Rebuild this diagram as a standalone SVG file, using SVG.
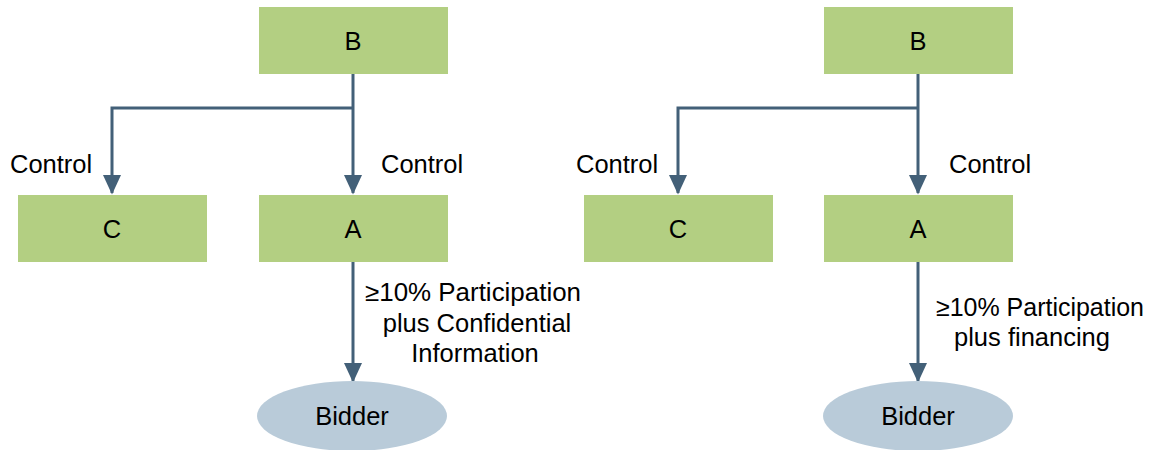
<svg xmlns="http://www.w3.org/2000/svg" width="1154" height="450" viewBox="0 0 1154 450">
<style>
.box{fill:#b3cf82}
.ell{fill:#b9cbd9}
.t{font-family:"Liberation Sans",Arial,sans-serif;font-size:25.5px;fill:#000}
.c{text-anchor:middle}
.ln{fill:none;stroke:#436078;stroke-width:3}
</style>
<defs>
<marker id="ah" markerWidth="7" markerHeight="6" refX="6" refY="3" orient="auto" markerUnits="strokeWidth">
<path d="M0,0 L6.5,3 L0,6 z" fill="#436078"/>
</marker>
</defs>
<rect width="1154" height="450" fill="#fff"/>
<g id="connectors">
<path class="ln" d="M353,74 V193" marker-end="url(#ah)"/>
<path class="ln" d="M353,108 H112 V193" marker-end="url(#ah)"/>
<path class="ln" d="M353,262 V381" marker-end="url(#ah)"/>
<path class="ln" d="M918,74 V193" marker-end="url(#ah)"/>
<path class="ln" d="M918,108 H678 V193" marker-end="url(#ah)"/>
<path class="ln" d="M918,262 V381" marker-end="url(#ah)"/>
</g>
<g id="labels">
<text class="t" x="10" y="173">Control</text>
<text class="t" x="381" y="173">Control</text>
<text class="t" x="576" y="173">Control</text>
<text class="t" x="949" y="173">Control</text>
<text class="t c" x="473" y="301" textLength="216" lengthAdjust="spacingAndGlyphs">≥10% Participation</text>
<text class="t c" x="477" y="332">plus Confidential</text>
<text class="t c" x="475" y="362">Information</text>
<text class="t c" x="1040" y="316" textLength="208" lengthAdjust="spacingAndGlyphs">≥10% Participation</text>
<text class="t c" x="1032" y="346">plus financing</text>
</g>
<g id="nodeB1"><rect class="box" x="259" y="7" width="189" height="67"/><text class="t c" x="353" y="50">B</text></g>
<g id="nodeC1"><rect class="box" x="18" y="195" width="189" height="67"/><text class="t c" x="112" y="238">C</text></g>
<g id="nodeA1"><rect class="box" x="259" y="195" width="189" height="67"/><text class="t c" x="353" y="238">A</text></g>
<g id="nodeBidder1"><ellipse class="ell" cx="352" cy="416" rx="95" ry="35"/><text class="t c" x="352" y="425">Bidder</text></g>
<g id="nodeB2"><rect class="box" x="824" y="7" width="189" height="67"/><text class="t c" x="918" y="50">B</text></g>
<g id="nodeC2"><rect class="box" x="584" y="195" width="189" height="67"/><text class="t c" x="678" y="238">C</text></g>
<g id="nodeA2"><rect class="box" x="824" y="195" width="189" height="67"/><text class="t c" x="918" y="238">A</text></g>
<g id="nodeBidder2"><ellipse class="ell" cx="918" cy="416" rx="95" ry="35"/><text class="t c" x="918" y="425">Bidder</text></g>
</svg>
